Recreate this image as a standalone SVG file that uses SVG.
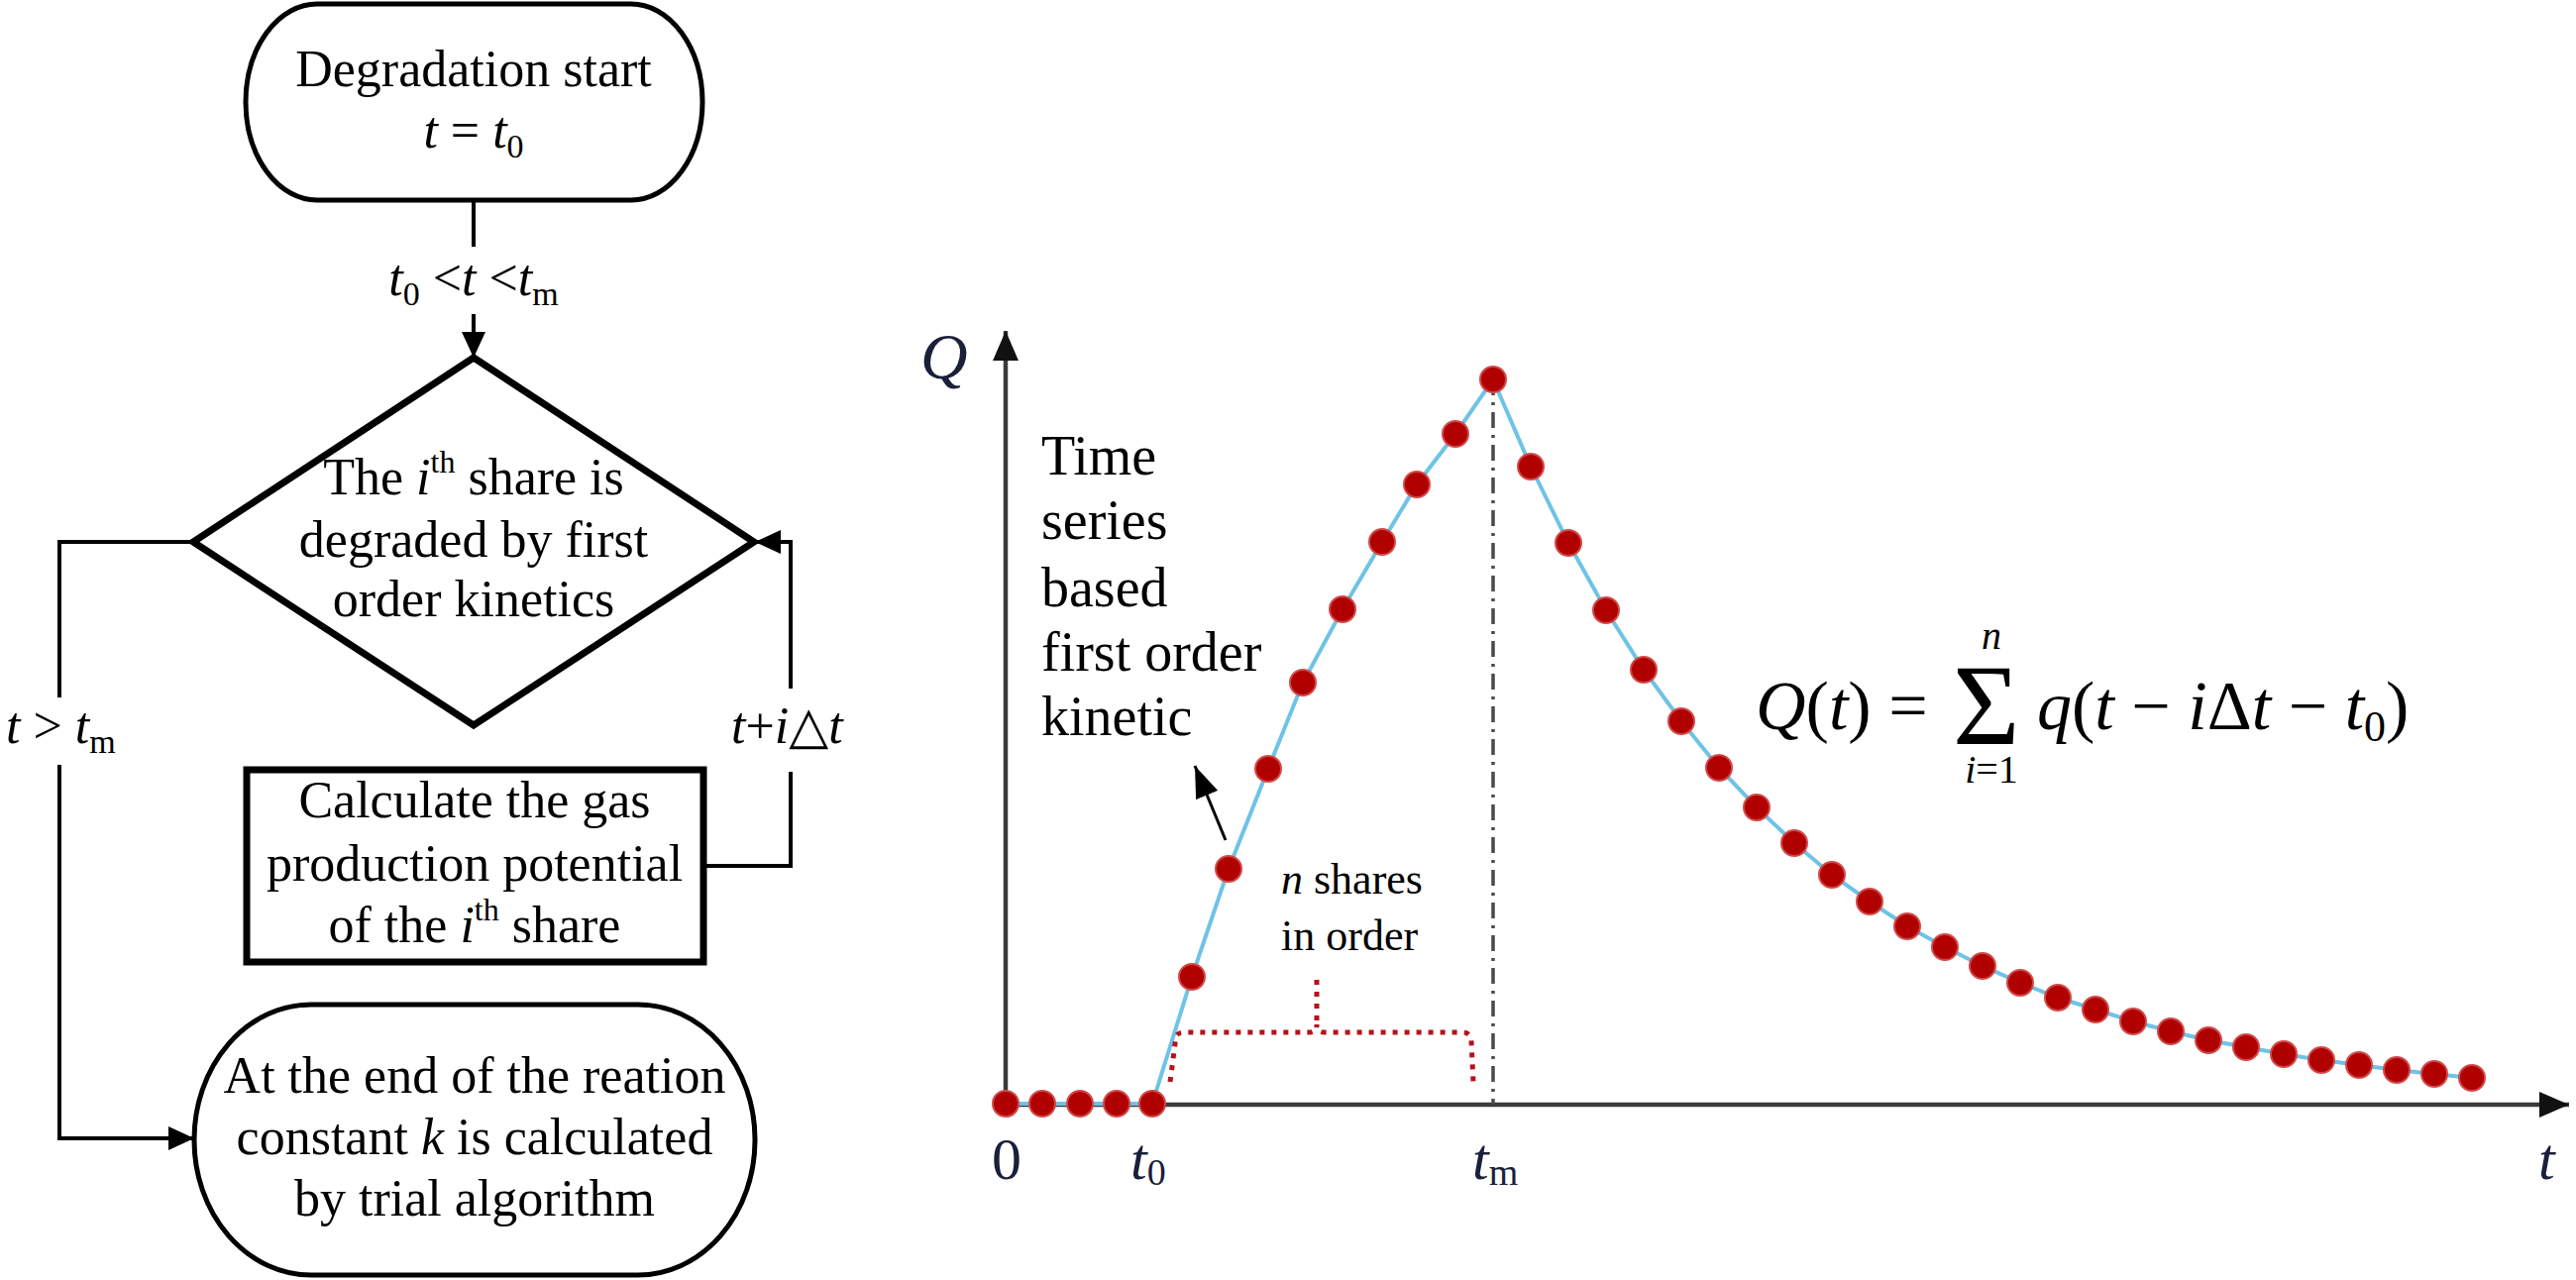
<svg xmlns="http://www.w3.org/2000/svg" width="2600" height="1292" viewBox="0 0 2600 1292">
<style>
text{font-family:"Liberation Serif","Tinos","Times New Roman","DejaVu Serif",serif;fill:#000}
.i{font-style:italic}
.box{fill:#fff;stroke:#000}
.con{fill:none;stroke:#000;stroke-width:4}
.ax{fill:none;stroke:#3a3a3a;stroke-width:4.5}
.lbl{fill:#1a1f3a;font-style:italic}
.dot{fill:#b00000;stroke:#d24848;stroke-width:2}
</style>
<defs>
<marker id="ah" markerUnits="userSpaceOnUse" markerWidth="26" markerHeight="24" refX="26" refY="12" orient="auto">
<path d="M0,0 L26,12 L0,24 z" fill="#000"/>
</marker>
<marker id="ax" markerUnits="userSpaceOnUse" markerWidth="30" markerHeight="26" refX="30" refY="13" orient="auto">
<path d="M0,0 L30,13 L0,26 z" fill="#111"/>
</marker>
<marker id="sa" markerUnits="userSpaceOnUse" markerWidth="32" markerHeight="24" refX="32" refY="12" orient="auto">
<path d="M0,0 L32,12 L0,24 z" fill="#000"/>
</marker>
</defs>

<!-- Flowchart nodes -->
<g id="start" font-size="52">
<rect class="box" x="248" y="4" width="461" height="198" rx="72" ry="99" stroke-width="5"/>
<text x="478" y="87" text-anchor="middle">Degradation start</text>
<text x="478" y="149" text-anchor="middle"><tspan class="i">t</tspan> = <tspan class="i">t</tspan><tspan font-size="34" dy="10">0</tspan></text>
</g>

<g id="decision" font-size="52">
<polygon class="box" points="478,361 761,547 478,732 195,547" stroke-width="7"/>
<text x="478" y="499" text-anchor="middle">The <tspan class="i">i</tspan><tspan font-size="32" dy="-22">th</tspan><tspan dy="22"> share is</tspan></text>
<text x="478" y="562" text-anchor="middle">degraded by first</text>
<text x="478" y="622" text-anchor="middle">order kinetics</text>
</g>

<g id="calc" font-size="52">
<rect class="box" x="249" y="777" width="461" height="194" stroke-width="7"/>
<text x="479" y="825" text-anchor="middle">Calculate the gas</text>
<text x="479" y="889" text-anchor="middle">production potential</text>
<text x="479" y="951" text-anchor="middle">of the <tspan class="i">i</tspan><tspan font-size="32" dy="-22">th</tspan><tspan dy="22"> share</tspan></text>
</g>

<g id="end" font-size="52">
<rect class="box" x="196" y="1014" width="566" height="273" rx="118" ry="136" stroke-width="5"/>
<text x="479" y="1103" text-anchor="middle">At the end of the reation</text>
<text x="479" y="1165" text-anchor="middle">constant <tspan class="i">k</tspan> is calculated</text>
<text x="479" y="1227" text-anchor="middle">by trial algorithm</text>
</g>

<!-- Flowchart connectors -->
<g id="connectors" font-size="52">
<line class="con" x1="478" y1="202" x2="478" y2="249"/>
<line class="con" x1="478" y1="317" x2="478" y2="361" marker-end="url(#ah)"/>
<text x="478" y="298" text-anchor="middle"><tspan class="i">t</tspan><tspan font-size="34" dy="10">0</tspan><tspan dy="-10"> &lt;</tspan><tspan class="i">t</tspan> &lt;<tspan class="i">t</tspan><tspan font-size="34" dy="10">m</tspan></text>

<path class="con" d="M195,547 H60 V704"/>
<path class="con" d="M60,772 V1149 H196" marker-end="url(#ah)"/>
<text x="6" y="750"><tspan class="i">t</tspan> &gt; <tspan class="i">t</tspan><tspan font-size="34" dy="10">m</tspan></text>

<path class="con" d="M710,874 H798 V779"/>
<path class="con" d="M798,695 V547 H762" marker-end="url(#ah)"/>
<text x="738" y="750"><tspan class="i">t</tspan>+<tspan class="i">i</tspan>△<tspan class="i">t</tspan></text>
</g>

<!-- Chart -->
<g id="chart">
<line class="ax" x1="1015" y1="1116" x2="1015" y2="334" marker-end="url(#ax)"/>
<line class="ax" x1="1012" y1="1115" x2="2593" y2="1115" marker-end="url(#ax)"/>
<line x1="1507" y1="383" x2="1507" y2="1115" stroke="#4a4a4a" stroke-width="3.5" stroke-dasharray="16 7 3 7"/>

<polyline fill="none" stroke="#6ec3e6" stroke-width="4" points="1015,1114 1163,1114 1203,986 1240,877 1280,776 1315,689 1355,615 1395,547 1430,489 1469,438 1507,383 1545,471 1583,548 1621,616 1659,676 1697,728 1735,775 1773,815 1811,851 1849,883 1887,910 1925,935 1963,956 2001,975 2039,992 2077,1007 2115,1019 2153,1031 2191,1041 2229,1050 2267,1057 2305,1064 2343,1070 2381,1075 2419,1080 2457,1084 2495,1088"/>

<g class="dots">
<circle class="dot" cx="1015" cy="1114" r="13"/><circle class="dot" cx="1052" cy="1114" r="13"/><circle class="dot" cx="1090" cy="1114" r="13"/><circle class="dot" cx="1127" cy="1114" r="13"/><circle class="dot" cx="1163" cy="1114" r="13"/>
<circle class="dot" cx="1203" cy="986" r="13"/><circle class="dot" cx="1240" cy="877" r="13"/><circle class="dot" cx="1280" cy="776" r="13"/><circle class="dot" cx="1315" cy="689" r="13"/><circle class="dot" cx="1355" cy="615" r="13"/><circle class="dot" cx="1395" cy="547" r="13"/><circle class="dot" cx="1430" cy="489" r="13"/><circle class="dot" cx="1469" cy="438" r="13"/><circle class="dot" cx="1507" cy="383" r="13"/>
<circle class="dot" cx="1545" cy="471" r="13"/><circle class="dot" cx="1583" cy="548" r="13"/><circle class="dot" cx="1621" cy="616" r="13"/><circle class="dot" cx="1659" cy="676" r="13"/><circle class="dot" cx="1697" cy="728" r="13"/><circle class="dot" cx="1735" cy="775" r="13"/><circle class="dot" cx="1773" cy="815" r="13"/><circle class="dot" cx="1811" cy="851" r="13"/><circle class="dot" cx="1849" cy="883" r="13"/><circle class="dot" cx="1887" cy="910" r="13"/><circle class="dot" cx="1925" cy="935" r="13"/><circle class="dot" cx="1963" cy="956" r="13"/><circle class="dot" cx="2001" cy="975" r="13"/><circle class="dot" cx="2039" cy="992" r="13"/><circle class="dot" cx="2077" cy="1007" r="13"/><circle class="dot" cx="2115" cy="1019" r="13"/><circle class="dot" cx="2153" cy="1031" r="13"/><circle class="dot" cx="2191" cy="1041" r="13"/><circle class="dot" cx="2229" cy="1050" r="13"/><circle class="dot" cx="2267" cy="1057" r="13"/><circle class="dot" cx="2305" cy="1064" r="13"/><circle class="dot" cx="2343" cy="1070" r="13"/><circle class="dot" cx="2381" cy="1075" r="13"/><circle class="dot" cx="2419" cy="1080" r="13"/><circle class="dot" cx="2457" cy="1084" r="13"/><circle class="dot" cx="2495" cy="1088" r="13"/>
</g>

<!-- bracket -->
<path d="M1181,1092 L1187,1046 Q1189,1042 1196,1042 H1322 Q1329,1042 1329,1034 Q1329,1042 1336,1042 H1476 Q1484,1042 1485,1050 L1487,1092" fill="none" stroke="#b5121b" stroke-width="5" stroke-dasharray="5 7"/>
<line x1="1329" y1="1030" x2="1329" y2="986" stroke="#b5121b" stroke-width="5" stroke-dasharray="5 7"/>

<line x1="1237" y1="848" x2="1206" y2="773" stroke="#000" stroke-width="3" marker-end="url(#sa)"/>

<!-- axis labels -->
<text class="lbl" x="929" y="382" font-size="66">Q</text>
<text class="lbl" x="1016" y="1190" font-size="60" style="font-style:normal" text-anchor="middle">0</text>
<text class="lbl" x="1141" y="1190" font-size="60">t<tspan font-size="38" style="font-style:normal" dy="6">0</tspan></text>
<text class="lbl" x="1486" y="1190" font-size="60">t<tspan font-size="38" style="font-style:normal" dy="6">m</tspan></text>
<text class="lbl" x="2562" y="1190" font-size="60">t</text>

<!-- annotation texts -->
<g id="annot" font-size="56">
<text x="1051" y="479">Time</text>
<text x="1051" y="544">series</text>
<text x="1051" y="612">based</text>
<text x="1051" y="677">first order</text>
<text x="1051" y="742">kinetic</text>
</g>
<g id="shares" font-size="44">
<text x="1293" y="902"><tspan class="i">n</tspan> shares</text>
<text x="1293" y="959">in order</text>
</g>

<!-- formula -->
<g id="formula">
<text font-size="70" x="1772" y="736"><tspan class="i">Q</tspan>(<tspan class="i">t</tspan>) =</text>
<text font-size="116" x="1971" y="751">Σ</text>
<text class="i" font-size="40" x="2010" y="655" text-anchor="middle">n</text>
<text font-size="40" x="2010" y="790" text-anchor="middle"><tspan class="i">i</tspan>=1</text>
<text font-size="70" x="2056" y="736"><tspan class="i">q</tspan>(<tspan class="i">t</tspan> − <tspan class="i">i</tspan>Δ<tspan class="i">t</tspan> − <tspan class="i">t</tspan><tspan font-size="44" dy="12">0</tspan><tspan dy="-12">)</tspan></text>
</g>
</g>
</svg>
